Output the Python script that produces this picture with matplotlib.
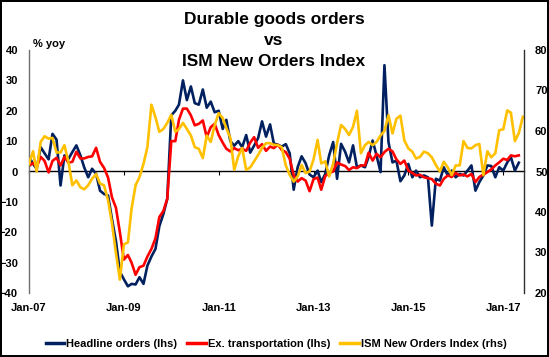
import numpy as np
import pandas as pd
import matplotlib
matplotlib.use("Agg")
import matplotlib.pyplot as plt
import matplotlib.dates as mdates
from matplotlib.lines import Line2D

plt.rcParams['font.family'] = ['Liberation Sans', 'DejaVu Sans']

# ---------------- data ----------------
start_month = "2007-01-01"

headline = [
    5, 2.5, 0.9, 8, 6, 4, 12.4, 10.5, -4.6, 5.3, 4.2, 6.4,            # 2007
    8.6, 5.3, 1.4, -1.9, 0.9, -0.8, -6.3, -7.4, -7.9, -15.6, -23, -33,  # 2008
    -35.5, -37.8, -37, -37.2, -34.8, -37, -31, -28, -25.5, -18, -14, -9,  # 2009
    18.5, 20, 22, 30, 23.5, 28, 22.5, 22, 27, 21, 23, 19.5,           # 2010
    20, 14, 17, 10, 8.5, 10, 8, 12, 6.2, 8.5, 11, 16.5,               # 2011
    11.5, 15.5, 9.2, 8.8, 8.2, 9, 6, -6, 1.5, 5, 2.7, -1,             # 2012
    -1.9, 0.3, -3.5, -0.8, 5.3, 9.7, -2.4, 9.1, 6.5, 3, 8.6, 1.4,     # 2013
    2, 1.4, 4.8, 10.2, 5.3, -0.2, 35, 9.7, 3, 3.6, -3.2, -1.3,        # 2014
    2.5, -1.9, 0.3, -1.9, -1.3, -1.9, -17.8, -2.4, -3, 1.4, -1.3, 0.3,  # 2015
    -1.9, -0.8, -1.3, 0.3, 2, -6.3, -3.5, -1.3, 2, 1.8, -1.9, 1.4,    # 2016
    0.3, 3, 4.7, 0.3, 2.9,                                            # 2017
]

ex_transport = [
    1.8, 2.8, 1.5, 4.8, 3.5, -0.3, 3.5, 4.5, 2.0, 4.8, 2.9, 3.2,       # 2007
    6.5, 4.3, 4.3, 4.8, 5.0, 7.8, 3.2, 1.2, -2.0, -8.5, -12, -20,      # 2008
    -29, -27.5, -30, -34, -31.5, -31, -28, -25.5, -22, -15, -13, -9,   # 2009
    10, 10, 17, 20.7, 20.7, 18.5, 15.2, 15.7, 16.8, 11.3, 14.6, 15.7,  # 2010
    12, 9.5, 7.5, 6.6, 7.7, 7, 7.5, 6.8, 9.5, 11.3, 7.8, 9,            # 2011
    6.8, 8.2, 7.7, 8.8, 7.1, 6.4, 4.2, -1.2, -3.3, -2.2, -3, -6.5,     # 2012
    -2.5, -2, -6, -1.5, -0.5, 0, 3, 2.3, 1.8, 0.5, 1.4, 1.1,           # 2013
    2, 2, 6.2, 3.6, 5.8, 4.7, 6.4, 7.5, 6.6, 4, 2.5, 3.6,              # 2014
    0.3, -0.5, -1.3, -1.1, -1.9, -2.2, -2.5, -4, -4.6, -2.4, -1.3, -1.8,  # 2015
    -0.5, -1.3, -1, -1.6, -0.8, -3.5, -1.8, -1, -0.2, 0.7, 2, 3,       # 2016
    4.2, 3.8, 5.3, 5, 5.3,                                             # 2017
]

ism_new_orders = [
    51.9, 55.0, 50.0, 57.3, 58.7, 58.1, 58.3, 54.7, 54.7, 56.5, 52.3, 46.6,  # 2007
    47.8, 46.1, 45.6, 46.6, 48.2, 49.4, 47.0, 46.6, 42.9, 37.3, 29.8, 23.3,  # 2008
    32.0, 32.5, 40.8, 46.6, 48.6, 51.9, 56.0, 66.5, 63.4, 59.8, 60.5, 62.0,  # 2009
    64.0, 59.8, 60.5, 62.0, 60.5, 58.9, 56.0, 55.6, 53.3, 58.9, 57.3, 61.4,  # 2010
    64.4, 63.2, 60.7, 58.3, 50.4, 53.8, 55.8, 50.4, 51.0, 52.5, 54.1, 55.8,  # 2011
    57.0, 57.0, 56.6, 56.5, 56.0, 51.5, 49.2, 47.5, 48.8, 51.6, 49.6, 50.0,  # 2012
    53.0, 57.8, 52.0, 52.5, 48.8, 51.9, 57.0, 61.5, 60.5, 59.0, 61.0, 65.0,  # 2013
    54.5, 56.5, 57.3, 56.5, 57.3, 58.9, 60.0, 63.9, 59.4, 63.0, 63.8, 57.7,  # 2014
    55.7, 54.9, 53.2, 53.6, 54.9, 54.5, 53.5, 51.6, 50.0, 52.4, 51.0, 49.1,  # 2015
    51.5, 51.5, 57.5, 55.8, 55.7, 56.5, 56.8, 49.1, 55.0, 53.5, 54.5, 60.2,  # 2016
    60.4, 65.1, 64.5, 57.5, 59.5, 63.5,                                      # 2017
]

tick_years = [2007, 2009, 2011, 2013, 2015, 2017]
left_ticks = [-40, -30, -20, -10, 0, 10, 20, 30, 40]
right_ticks = [20, 30, 40, 50, 60, 70, 80]

title_lines = ["Durable goods orders", "vs", "ISM New Orders Index"]
left_unit = "% yoy"
labels = ["Headline orders (lhs)", "Ex. transportation (lhs)", "ISM New Orders Index (rhs)"]

# ---------------- styling ----------------
c_blue = "#002060"
c_red = "#FF0000"
c_yellow = "#FFC000"
lw = 1.9

dates_dg = pd.date_range(start_month, periods=len(headline), freq="MS")
dates_ism = pd.date_range(start_month, periods=len(ism_new_orders), freq="MS")

fig = plt.figure(figsize=(5.49, 3.57), dpi=100)
fig.patch.set_facecolor("white")
fig.patch.set_edgecolor("black")
fig.patch.set_linewidth(1.5)

ax = fig.add_axes([29 / 549, 1 - 293 / 357, 495 / 549, 243 / 357])
ax.set_facecolor("none")

ax.plot(dates_dg, headline, color=c_blue, lw=lw, solid_joinstyle="round")
ax.plot(dates_dg, ex_transport, color=c_red, lw=lw, solid_joinstyle="round")

ax2 = ax.twinx()
ax2.plot(dates_ism, ism_new_orders, color=c_yellow, lw=lw, solid_joinstyle="round")

ax.set_ylim(-40, 40)
ax2.set_ylim(20, 80)
ax.set_xlim(pd.Timestamp("2007-01-01"), pd.Timestamp("2017-06-10"))

ax.set_yticks(left_ticks)
ax2.set_yticks(right_ticks)
xt = [pd.Timestamp(f"{y}-01-01") for y in tick_years]
ax.set_xticks(xt)
ax.xaxis.set_major_formatter(mdates.DateFormatter("%b-%y"))

for a in (ax, ax2):
    for s in ("top", "bottom"):
        a.spines[s].set_visible(False)
ax.spines["right"].set_visible(False)
ax2.spines["left"].set_visible(False)
ax.spines["left"].set_color("#707070")
ax.spines["left"].set_linewidth(1.0)
ax2.spines["right"].set_color("#303030")
ax2.spines["right"].set_linewidth(1.0)

ax.tick_params(axis="y", length=0, pad=8)
ax2.tick_params(axis="y", length=0, pad=8)
ax.tick_params(axis="x", length=0, pad=7)
for lab in ax.get_xticklabels() + ax.get_yticklabels() + ax2.get_yticklabels():
    lab.set_fontsize(8)
    lab.set_fontweight("bold")

# zero line with small tick marks
secax = ax.secondary_xaxis(0.5)
secax.set_alignment("bottom")
secax.set_xticks(xt)
secax.tick_params(axis="x", length=3, direction="out", color="black", width=0.8,
                  labelbottom=False, labeltop=False)
secax.spines["bottom"].set_color("black")
secax.spines["bottom"].set_linewidth(1.0)
secax.spines["top"].set_visible(False)

# title: three centred lines
for k, (line, ypx) in enumerate(zip(title_lines, [19.5, 40.5, 61.5])):
    fig.text(274 / 549, 1 - ypx / 357, line, ha="center", va="center",
             fontsize=12.5, fontweight="bold")
fig.text(33 / 549, 1 - 44 / 357, left_unit, ha="left", va="center",
         fontsize=8, fontweight="bold")

handles = [Line2D([], [], color=c, lw=2.5) for c in (c_blue, c_red, c_yellow)]
fig.legend(handles, labels, loc="center", bbox_to_anchor=(276 / 549, 13 / 357),
           ncol=3, frameon=False, handlelength=1.7, handletextpad=0.15,
           columnspacing=0.9, borderaxespad=0,
           prop=dict(size=8, weight="bold"))

fig.savefig("out.png", dpi=100, facecolor=fig.get_facecolor(),
            edgecolor=fig.get_edgecolor())
